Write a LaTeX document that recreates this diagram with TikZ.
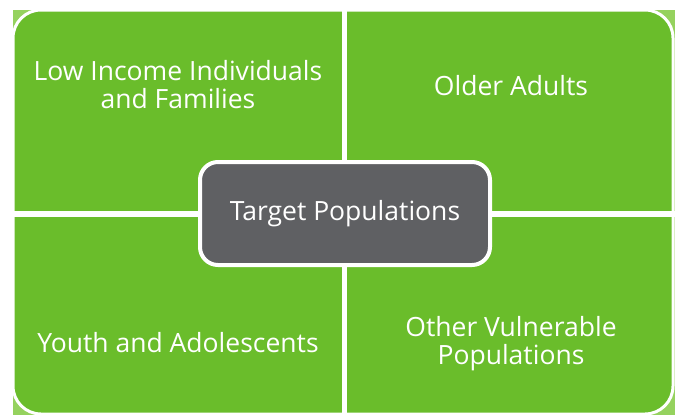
\documentclass[tikz,border=0pt]{standalone}
\usepackage{fontspec}
\setmainfont{Open Sans}
\usetikzlibrary{positioning}
\definecolor{quadgreen}{HTML}{6ABD2B}
\definecolor{cornergreen}{HTML}{95D25E}
\definecolor{hubgray}{HTML}{5F6063}

\begin{document}
\begin{tikzpicture}[
    x=1pt, y=-1pt,
    label/.style={text=white, align=center, font=\fontsize{26.5}{28}\selectfont},
    hub/.style={rectangle, rounded corners=18pt, fill=hubgray, draw=white, line width=4pt,
        minimum width=290pt, minimum height=103pt, text=white, font=\fontsize{26.5}{28}\selectfont}
]
    \useasboundingbox (0,0) rectangle (675,415);
    % quadrants
    \fill[cornergreen] (13,10) rectangle (675,415);
    \fill[quadgreen, rounded corners=28pt] (13,10) rectangle (673,414);
    \fill[white] (342,0) rectangle (347,415);
    \fill[white] (0,211) rectangle (675,217);
    \draw[white, line width=3pt, rounded corners=28pt] (13,10) rectangle (673,414);

    \node[label] (lowinc) at (178,85) {Low Income Individuals\\and Families};
    \node[label] (older) at (511,86) {Older Adults};
    \node[label] (youth) at (178,343) {Youth and Adolescents};
    \node[label] (other) at (511,344) {Other Vulnerable\\Populations};

    \node[hub] (target) at (345,213.5) {Target Populations};
\end{tikzpicture}
\end{document}
